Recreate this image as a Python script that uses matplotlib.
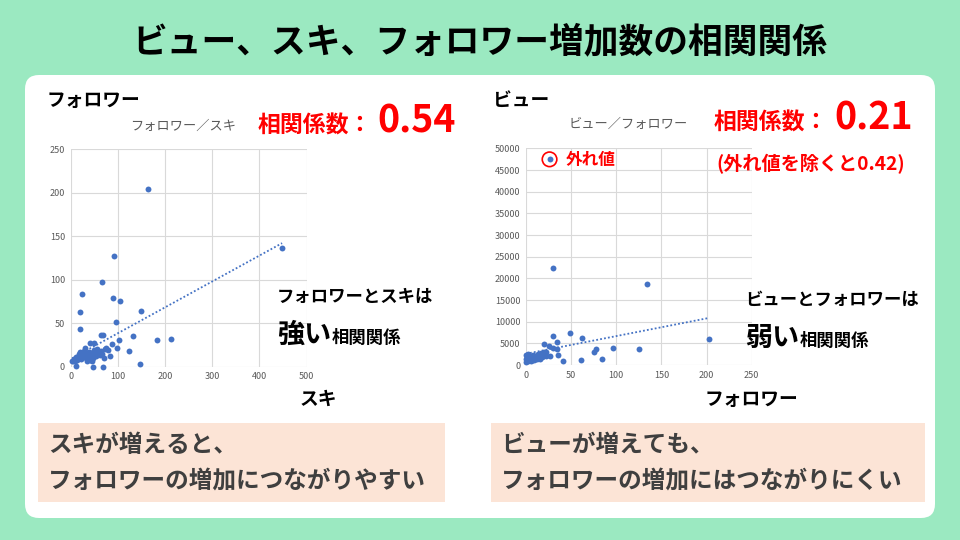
import numpy as np
import matplotlib
matplotlib.use("Agg")
import matplotlib.pyplot as plt
from matplotlib.patches import FancyBboxPatch, Rectangle

plt.rcParams['font.family'] = ['Noto Sans CJK JP', 'DejaVu Sans']

# --- data ---
# left: スキ (x) vs フォロワー (y)
suki = [163, 448, 92, 66, 25, 90, 104, 20, 150, 20, 96, 65, 69, 42, 49, 102, 133, 184, 213,
        87, 99, 124, 73, 79, 83, 146, 68, 48, 11, 3,
        5, 8, 10, 12, 14, 16, 18, 20, 22, 24, 26, 28, 30, 30, 32, 34, 36, 38, 40, 40,
        42, 44, 46, 48, 50, 52, 54, 56, 58, 60, 62, 64, 66, 35, 45, 55, 25, 18, 70, 75]
follower = [204, 136, 127, 97, 84, 79, 76, 63, 64, 43, 51, 36, 36, 27, 27, 31, 35, 31, 32,
            26, 22, 18, 20, 19, 12, 3, 0, 0, 1, 6,
            7, 9, 6, 11, 8, 10, 12, 17, 9, 14, 11, 18, 21, 13, 10, 15, 12, 17, 8, 14,
            11, 16, 13, 10, 19, 15, 12, 17, 14, 16, 13, 18, 15, 7, 6, 20, 16, 14, 10, 22]

# right: フォロワー (x) vs ビュー (y)
follower2 = [26, 30, 134, 203, 49, 30, 62, 34, 20, 25, 30, 34, 35, 26, 41, 61, 78, 75, 96, 125, 84,
             0, 0, 0, 1, 1, 2, 2, 3, 3, 4, 4, 5, 5, 6, 6, 7, 7, 8, 8, 9, 9, 10, 10, 11, 11,
             12, 12, 13, 13, 14, 14, 15, 15, 16, 16, 17, 18, 18, 19, 19, 20, 21, 22, 22]
view = [47500, 22300, 18600, 6000, 7500, 6800, 6300, 5300, 4800, 4500, 3900, 3600, 2300, 2000,
        900, 1100, 3600, 3000, 3900, 3800, 1400,
        800, 1500, 2300, 1200, 1900, 1000, 2500, 1400, 1700, 1100, 2100, 1300, 1800, 900, 1600,
        2000, 1200, 1500, 2400, 1700, 1100, 1900, 1400, 2200, 1600, 1800, 1300, 2100, 2600,
        1700, 2000, 2300, 1500, 2800, 1900, 2200, 2500, 1800, 2700, 2100, 3000, 2400, 2900, 2000]
outlier = 0  # index of the circled point

blue = '#4472C4'
red = '#FF0000'
grid_c = '#D9D9D9'
tick_c = '#595959'

fig = plt.figure(figsize=(9.6, 5.4), dpi=100)
fig.patch.set_facecolor('#9BE9C1')

# background panel in pixel coordinates
bg = fig.add_axes([0, 0, 1, 1], zorder=-5)
bg.set_xlim(0, 960)
bg.set_ylim(540, 0)
bg.axis('off')
bg.add_patch(FancyBboxPatch((25, 75), 910, 443, boxstyle="round,pad=0,rounding_size=14",
                            facecolor='white', edgecolor='none'))
bg.add_patch(Rectangle((38, 423), 407, 79, facecolor='#FCE4D6', edgecolor='none'))
bg.add_patch(Rectangle((491, 423), 434, 79, facecolor='#FCE4D6', edgecolor='none'))


def px(x, y):
    return x / 960, 1 - y / 540


def txt(x, y, s, **kw):
    fx, fy = px(x, y)
    fig.text(fx, fy, s, **kw)


def style_ax(ax, xmax, xstep, ymax, ystep):
    ax.set_facecolor('none')
    ax.set_xlim(0, xmax)
    ax.set_ylim(0, ymax)
    ax.set_xticks(np.arange(0, xmax + 1, xstep))
    ax.set_yticks(np.arange(0, ymax + 1, ystep))
    ax.grid(True, color=grid_c, linewidth=0.8)
    ax.set_axisbelow(True)
    for s in ax.spines.values():
        s.set_visible(False)
    ax.tick_params(length=0, labelsize=6.5, colors=tick_c, pad=4)


# left chart
ax1 = fig.add_axes([0.0736, 0.321, 0.2458, 0.403])
style_ax(ax1, 500, 100, 250, 50)
ax1.scatter(suki, follower, s=18, color=blue, clip_on=False, zorder=3, linewidths=0)
k1 = np.polyfit(suki, follower, 1)
xs1 = np.array([min(suki), max(suki)])
ax1.plot(xs1, np.polyval(k1, xs1), linestyle=(0, (1, 1.2)), color=blue, linewidth=1.3, zorder=2)

# right chart
ax2 = fig.add_axes([0.548, 0.324, 0.235, 0.401])
style_ax(ax2, 250, 50, 50000, 5000)
ax2.scatter(follower2, view, s=18, color=blue, clip_on=False, zorder=3, linewidths=0)
k2 = np.polyfit(follower2, view, 1)
xs2 = np.array([min(follower2), max(follower2)])
ax2.plot(xs2, np.polyval(k2, xs2), linestyle=(0, (1, 1.2)), color=blue, linewidth=1.3, zorder=2)
ax2.scatter([follower2[outlier]], [view[outlier]], s=110, facecolors='none', edgecolors=red,
            linewidths=1.2, zorder=4, clip_on=False)

# texts
txt(480, 42, 'ビュー、スキ、フォロワー増加数の相関関係', fontsize=25, fontweight='bold',
    ha='center', va='center', color='black')

txt(47, 100, 'フォロワー', fontsize=13.5, fontweight='bold', va='center')
txt(183, 126, 'フォロワー／スキ', fontsize=9.5, color=tick_c, ha='center', va='center')
txt(258, 133, '相関係数：', fontsize=16.5, fontweight='bold', color=red, va='baseline')
txt(377, 133, '0.54', fontsize=27, fontweight='bold', color=red, va='baseline')
txt(277, 297, 'フォロワーとスキは', fontsize=12.5, fontweight='bold', va='center')
txt(277, 343, '強い', fontsize=19.5, fontweight='bold', va='baseline')
txt(332, 343, '相関関係', fontsize=12.5, fontweight='bold', va='baseline')
txt(318, 399, 'スキ', fontsize=13.5, fontweight='bold', ha='center', va='center')
txt(48, 445, 'スキが増えると、', fontsize=17, fontweight='bold', color='#3F3F3F', va='center')
txt(48, 481, 'フォロワーの増加につながりやすい', fontsize=17, fontweight='bold', color='#3F3F3F',
    va='center')

txt(493, 100, 'ビュー', fontsize=13.5, fontweight='bold', va='center')
txt(628, 124, 'ビュー／フォロワー', fontsize=9.5, color=tick_c, ha='center', va='center')
txt(714, 130, '相関係数：', fontsize=16.5, fontweight='bold', color=red, va='baseline')
txt(834, 130, '0.21', fontsize=27, fontweight='bold', color=red, va='baseline')
txt(716, 164, '(外れ値を除くと0.42)', fontsize=13.8, fontweight='bold', color=red, va='center')
txt(566, 160, '外れ値', fontsize=12, fontweight='bold', color=red, va='center')
txt(745, 300, 'ビューとフォロワーは', fontsize=12.5, fontweight='bold', va='center')
txt(745, 346, '弱い', fontsize=19.5, fontweight='bold', va='baseline')
txt(800, 346, '相関関係', fontsize=12.5, fontweight='bold', va='baseline')
txt(751, 399, 'フォロワー', fontsize=13.5, fontweight='bold', ha='center', va='center')
txt(501, 445, 'ビューが増えても、', fontsize=17, fontweight='bold', color='#3F3F3F', va='center')
txt(501, 481, 'フォロワーの増加にはつながりにくい', fontsize=17, fontweight='bold', color='#3F3F3F',
    va='center')

fig.savefig('out.png', dpi=100, facecolor=fig.get_facecolor())
